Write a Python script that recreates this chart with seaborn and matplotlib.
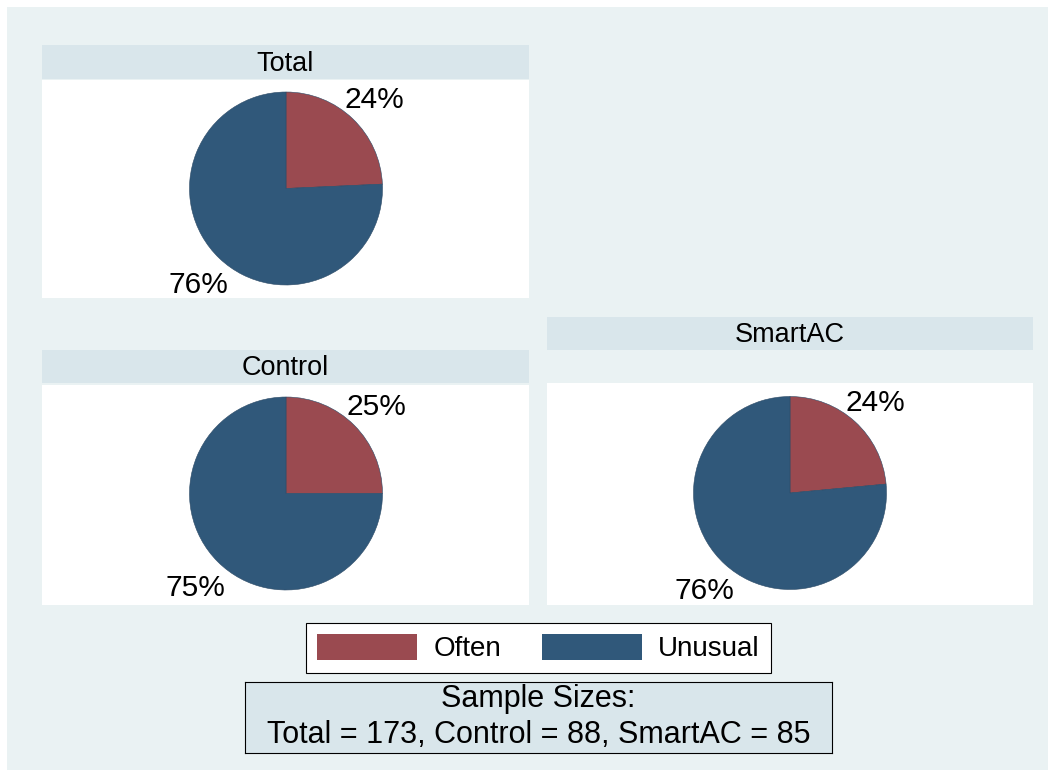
import matplotlib
matplotlib.use("Agg")
import matplotlib.pyplot as plt
from matplotlib.patches import Patch, Rectangle
import seaborn as sns

# data
groups = ["Total", "Control", "SmartAC"]
often = [42, 22, 20]
unusual = [131, 66, 65]
categories = ["Often", "Unusual"]
sample_title = "Sample Sizes:"
sample_text = "Total = 173, Control = 88, SmartAC = 85"

sns.set_theme(style="white")
plt.rcParams["font.family"] = ["Liberation Sans", "DejaVu Sans"]
plt.rcParams["text.color"] = "black"

colors = sns.color_palette(["#9a4a50", "#30587a"])
bg = "#eaf2f3"
strip_c = "#d9e6eb"

W, H = 1055, 773
fig = plt.figure(figsize=(W / 100, H / 100), dpi=100)
fig.patch.set_facecolor("white")

def box(x0, y0, x1, y1):
    return [x0 / W, 1 - y1 / H, (x1 - x0) / W, (y1 - y0) / H]

fig.patches.append(Rectangle((7 / W, 1 - 770 / H), 1041 / W, 763 / H,
                             transform=fig.transFigure, facecolor=bg,
                             edgecolor="none", zorder=-10))

# panel layout in pixels: strip box, plot box, pie centre
panels = [
    dict(strip=(42, 45, 529, 79), plot=(42, 80, 529, 298), c=(286, 188.5)),
    dict(strip=(42, 350, 529, 383), plot=(42, 385, 529, 605), c=(286, 493.5)),
    dict(strip=(547, 317, 1033, 350), plot=(547, 383, 1033, 605), c=(790, 493)),
]
r = 96.5

for i, p in enumerate(panels):
    sax = fig.add_axes(box(*p["strip"]))
    sax.set_facecolor(strip_c)
    sax.set_xticks([]); sax.set_yticks([])
    for s in sax.spines.values():
        s.set_visible(False)
    sax.text(0.5, 0.45, groups[i], ha="center", va="center", fontsize=19.5,
             color="black", transform=sax.transAxes)

    ax = fig.add_axes(box(*p["plot"]))
    wedges, texts, autotexts = ax.pie(
        [often[i], unusual[i]], colors=colors, startangle=90,
        counterclock=False, autopct=lambda v: f"{v:.0f}%",
        pctdistance=1.32, textprops=dict(fontsize=21.5, color="black"),
        wedgeprops=dict(linewidth=0.4, edgecolor="#2c4a66"))
    # labels sit a little lower in the original
    for t in autotexts:
        tx, ty = t.get_position()
        t.set_position((tx, ty - 4 / r))
    ax.set_frame_on(True)
    ax.set_facecolor("white")
    x0, y0, x1, y1 = p["plot"]
    cx, cy = p["c"]
    ax.set_aspect("auto")
    ax.set_xlim(-(cx - x0) / r, (x1 - cx) / r)
    ax.set_ylim(-(y1 - cy) / r, (cy - y0) / r)
    ax.set_xticks([]); ax.set_yticks([])
    for s in ax.spines.values():
        s.set_visible(False)

# legend
handles = [Patch(facecolor=colors[k], edgecolor="none", label=categories[k])
           for k in range(2)]
leg = fig.legend(handles=handles, loc="center",
                 bbox_to_anchor=(538.5 / W, 1 - 648 / H), ncol=2,
                 fontsize=20, frameon=True, fancybox=False, framealpha=1,
                 handlelength=3.6, handleheight=1.05, columnspacing=1.45,
                 handletextpad=0.6, borderpad=0.4, borderaxespad=0)
leg.get_frame().set_edgecolor("black")
leg.get_frame().set_linewidth(0.8)
leg.get_frame().set_facecolor("white")
for t in leg.get_texts():
    t.set_color("black")

# sample size note
nax = fig.add_axes(box(245, 682, 832, 753))
nax.set_facecolor(strip_c)
nax.set_xticks([]); nax.set_yticks([])
for s in nax.spines.values():
    s.set_visible(True)
    s.set_color("black")
    s.set_linewidth(0.8)
nax.text(0.5, 0.76, sample_title, ha="center", va="center", fontsize=22,
         color="black", transform=nax.transAxes)
nax.text(0.5, 0.26, sample_text, ha="center", va="center", fontsize=22,
         color="black", transform=nax.transAxes)

fig.savefig("out.png", dpi=100)
